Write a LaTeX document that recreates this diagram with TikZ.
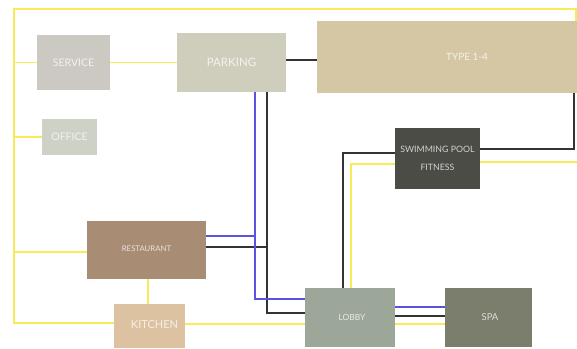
\documentclass[tikz,border=0pt]{standalone}
\usepackage{fontspec}
\setmainfont{Lato}
\usetikzlibrary{backgrounds}
\definecolor{cservice}{HTML}{CCC8C2}
\definecolor{cparking}{HTML}{CFCEBC}
\definecolor{coffice}{HTML}{CDD1C6}
\definecolor{ctype}{HTML}{D6C7A4}
\definecolor{cpool}{HTML}{4B4C45}
\definecolor{crest}{HTML}{A88C74}
\definecolor{ckitchen}{HTML}{DCC2A0}
\definecolor{clobby}{HTML}{9DA799}
\definecolor{cspa}{HTML}{7B7E6C}
\definecolor{cyel}{HTML}{F8EB5A}
\definecolor{cblue}{HTML}{5D52E0}
\definecolor{cblack}{HTML}{333333}
\tikzset{
  room/.style={rectangle, inner sep=0pt, draw=none, text=white, text opacity=0.75, align=center},
  yel/.style={draw=cyel, line width=1.8pt},
  blu/.style={draw=cblue, line width=1.8pt},
  blk/.style={draw=cblack, line width=1.6pt},
}
\begin{document}
\begin{tikzpicture}[x=1pt,y=-1pt]
\useasboundingbox (0,0) rectangle (577,348);
\node[room, fill=cservice, minimum width=73pt, minimum height=55pt, font=\fontsize{10.5}{12}\selectfont] (service) at (73.5,62.5) {SERVICE};
\node[room, fill=cparking, minimum width=109pt, minimum height=59pt, font=\fontsize{11.5}{12}\selectfont] (parking) at (231.5,62.5) {\raisebox{-1.5pt}{PARKING}};
\node[room, fill=coffice, minimum width=55pt, minimum height=36pt, font=\fontsize{10.5}{12}\selectfont] (office) at (69.5,137) {OFFICE};
\node[room, fill=ctype, minimum width=260pt, minimum height=72pt, font=\fontsize{10}{12}\selectfont] (type) at (447,57) {\hspace*{40pt}\raisebox{-2pt}{TYPE 1-4}};
\node[room, fill=cpool, minimum width=85pt, minimum height=61pt, font=\fontsize{8.8}{18}\selectfont] (pool) at (437.5,158.5) {SWIMMING POOL\\FITNESS};
\node[room, fill=crest, minimum width=119pt, minimum height=58pt, font=\fontsize{7.8}{9}\selectfont] (rest) at (146.5,250) {\raisebox{2pt}{RESTAURANT}};
\node[room, fill=ckitchen, minimum width=71pt, minimum height=44pt, font=\fontsize{11}{12}\selectfont] (kitchen) at (149.5,326) {\hspace*{10pt}\raisebox{3pt}{KITCHEN}};
\node[room, fill=clobby, minimum width=90pt, minimum height=59pt, font=\fontsize{8.5}{10}\selectfont] (lobby) at (350,317.5) {\hspace*{4pt}LOBBY};
\node[room, fill=cspa, minimum width=87pt, minimum height=59pt, font=\fontsize{9.5}{10}\selectfont] (spa) at (488.5,317.5) {\hspace*{3pt}\raisebox{-2pt}{SPA}};
\begin{scope}[on background layer]
% yellow
\draw[yel] (kitchen.west |- 0,323) -| (14,9) -| ([xshift=-1pt]type.north east);
\draw[yel] (service.west) -- (service.west -| 14,0);
\draw[yel] (service.east) -- (parking.west);
\draw[yel] (office.west) -- (office.west -| 14,0);
\draw[yel] (rest.west |- 0,252) -- (14,252);
\draw[yel] (rest.south -| 148,0) -- (kitchen.north -| 148,0);
\draw[yel] (kitchen.east |- 0,324) -- (lobby.west |- 0,324);
\draw[yel] (lobby.east |- 0,324) -- (spa.west |- 0,324);
\draw[yel] (pool.west |- 0,164) -| (lobby.north -| 351,0);
\draw[yel] (pool.east |- 0,162) -- (580,162);
% black
\draw[blk] (parking.east |- 0,60) -- (type.west |- 0,60);
\draw[blk] (type.south -| 574,0) |- (pool.east |- 0,149);
\draw[blk] (pool.west |- 0,153) -| (lobby.north -| 343,0);
\draw[blk] (parking.south -| 267,0) |- (lobby.west |- 0,313);
\draw[blk] (rest.east |- 0,247) -- (267,247);
\draw[blk] (lobby.east |- 0,316) -- (spa.west |- 0,316);
% blue
\draw[blu] (parking.south -| 255,0) |- (lobby.west |- 0,299);
\draw[blu] (rest.east |- 0,236) -- (255,236);
\draw[blu] (lobby.east |- 0,307) -- (spa.west |- 0,307);
\end{scope}
\end{tikzpicture}
\end{document}
